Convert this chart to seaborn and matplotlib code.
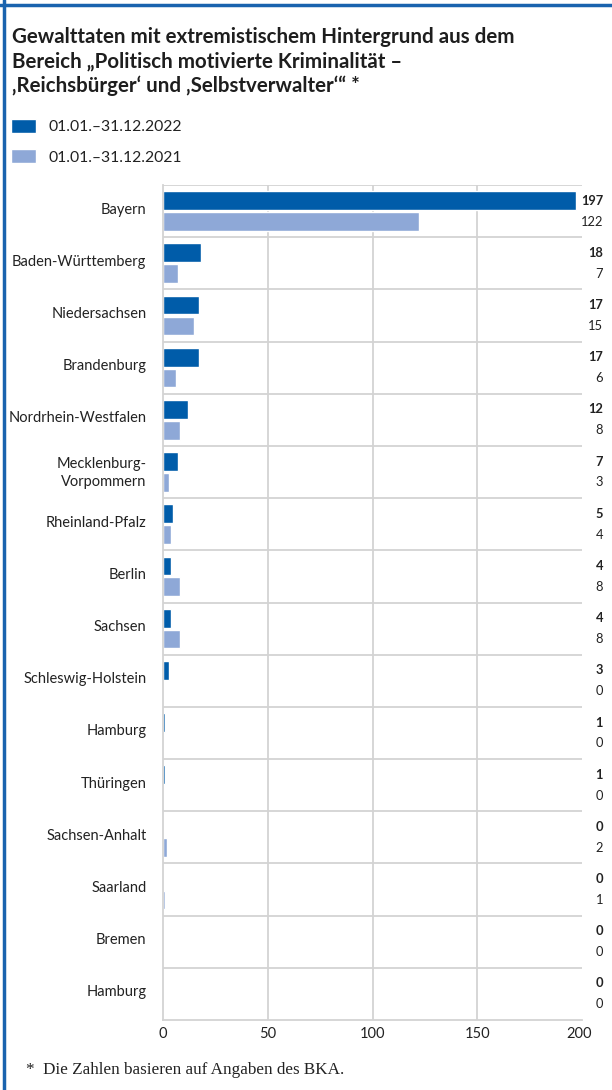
import pandas as pd
import matplotlib.pyplot as plt
import seaborn as sns
from matplotlib.lines import Line2D
from matplotlib.transforms import ScaledTranslation

states = ["Bayern", "Baden-Württemberg", "Niedersachsen", "Brandenburg",
          "Nordrhein-Westfalen", "Mecklenburg-\nVorpommern", "Rheinland-Pfalz",
          "Berlin", "Sachsen", "Schleswig-Holstein", "Hamburg", "Thüringen",
          "Sachsen-Anhalt", "Saarland", "Bremen", "Hamburg"]
values_2022 = [197, 18, 17, 17, 12, 7, 5, 4, 4, 3, 1, 1, 0, 0, 0, 0]
values_2021 = [122, 7, 15, 6, 8, 3, 4, 8, 8, 0, 0, 0, 2, 1, 0, 0]
periods = ["01.01.–31.12.2022", "01.01.–31.12.2021"]
xticks = [0, 50, 100, 150, 200]

dark = "#005ca9"
light = "#8ea8d7"
grid = "#d3d3d3"

rows = []
for i in range(len(states)):
    rows.append({"row": str(i), "period": periods[0], "value": values_2022[i]})
    rows.append({"row": str(i), "period": periods[1], "value": values_2021[i]})
df = pd.DataFrame(rows)

sns.set_style("white")
plt.rcParams["font.family"] = ["Lato", "DejaVu Sans"]

fig = plt.figure(figsize=(6.12, 10.9), dpi=100)
ax = fig.add_axes([163 / 612, 1 - 1020 / 1090, 419 / 612, 835 / 1090])

sns.barplot(data=df, y="row", x="value", hue="period", hue_order=periods,
            palette=[dark, light], orient="h", width=0.8, gap=0.1,
            saturation=1, ax=ax, legend=True)

ax.set_xlim(0, 200)
ax.set_ylim(len(states) - 0.5, -0.5)
ax.set_yticks(range(len(states)), labels=states)
ax.set_xticks(xticks, labels=[str(t) for t in xticks])
ax.tick_params(axis="both", length=0, labelsize=10.5, colors="#222222")
ax.tick_params(axis="y", pad=12)
ax.tick_params(axis="x", pad=5)
ax.set_xlabel("")
ax.set_ylabel("")
shift = ScaledTranslation(0, 3 / 100, fig.dpi_scale_trans)
for lab in ax.get_yticklabels():
    lab.set_horizontalalignment("right")
    lab.set_multialignment("right")
    lab.set_linespacing(1.45)
    lab.set_transform(lab.get_transform() + shift)
xshift = ScaledTranslation(-3 / 100, 0, fig.dpi_scale_trans)
ax.get_xticklabels()[-1].set_transform(ax.get_xticklabels()[-1].get_transform() + xshift)

# grid lines
for t in xticks[1:-1]:
    ax.axvline(t, color=grid, lw=1.3, zorder=0)
for k in range(len(states)):
    ax.axhline(k - 0.5, color=grid, lw=1.3, zorder=0)
for s in ["top", "right"]:
    ax.spines[s].set_visible(False)
for s in ["left", "bottom"]:
    ax.spines[s].set_color(grid)
    ax.spines[s].set_linewidth(1.3)

# value labels at the right
trans = ax.get_yaxis_transform()
for ci, cont in enumerate(ax.containers):
    for bar in cont:
        yc = bar.get_y() + bar.get_height() / 2
        ax.text(1.05, yc, f"{int(bar.get_width())}", transform=trans,
                ha="right", va="center", fontsize=9.3,
                fontweight="bold" if ci == 0 else "normal",
                color="#222222", clip_on=False)

# legend at the top
handles, labels = ax.get_legend_handles_labels()
ax.get_legend().remove()
fig.legend(handles, labels, loc="upper left",
           bbox_to_anchor=(5 / 612, 1 - 113 / 1090),
           frameon=False, fontsize=11.3, handlelength=1.6, handleheight=0.95,
           labelspacing=0.95, handletextpad=0.8, borderaxespad=0,
           labelcolor="#222222")

fig.text(12 / 612, 1 - 27 / 1090,
         "Gewalttaten mit extremistischem Hintergrund aus dem\n"
         "Bereich „Politisch motivierte Kriminalität –\n"
         "‚Reichsbürger‘ und ‚Selbstverwalter‘“ *",
         ha="left", va="top", fontsize=14.8, fontweight="bold",
         color="#1e1e1e", linespacing=1.27)

fig.text(26 / 612, 1 - 1070 / 1090, "*  Die Zahlen basieren auf Angaben des BKA.",
         ha="left", va="center", fontsize=12.3, family="Liberation Serif",
         color="#222222")

# blue frame on top and left
fig.add_artist(Line2D([0, 1], [1 - 5 / 1090] * 2, color="#1a63ae", lw=2.5,
                      transform=fig.transFigure))
fig.add_artist(Line2D([4 / 612] * 2, [0, 1], color="#1a63ae", lw=2.5,
                      transform=fig.transFigure))

fig.savefig("out.png", dpi=100)
